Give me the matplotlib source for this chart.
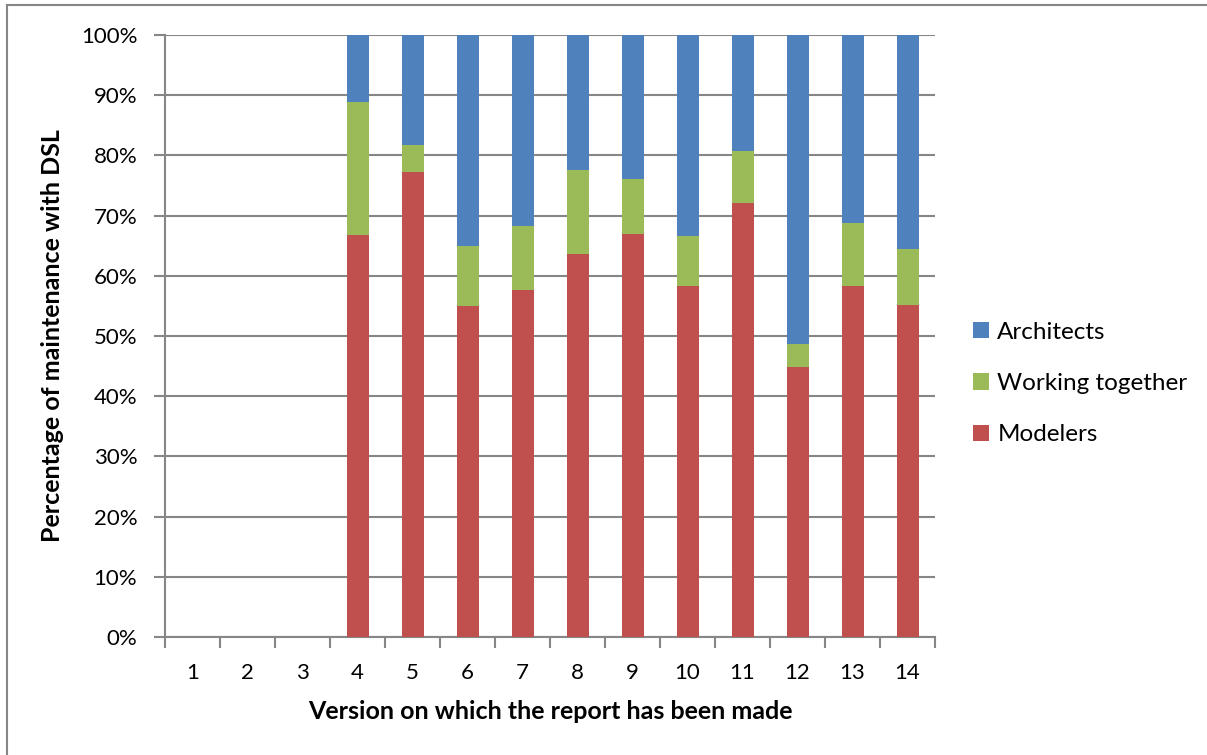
import matplotlib.pyplot as plt
from matplotlib.lines import Line2D
import numpy as np

plt.rcParams['font.family'] = ['Lato', 'DejaVu Sans']

versions = list(range(1, 15))
# share of maintenance per version, in percent (versions 1-3 have no reports)
modelers = [0, 0, 0, 66.7, 77.3, 55.0, 57.7, 63.6, 67.0, 58.3, 72.1, 44.9, 58.3, 55.1]
working_together = [0, 0, 0, 22.2, 4.5, 10.0, 10.6, 13.9, 9.0, 8.3, 8.6, 3.7, 10.4, 9.4]
architects = [0, 0, 0, 11.1, 18.2, 35.0, 31.7, 22.5, 24.0, 33.4, 19.3, 51.4, 31.3, 35.5]

blue = '#4F81BD'
green = '#9BBB59'
red = '#C0504D'
grid_grey = '#868686'

fig = plt.figure(figsize=(12.07, 7.55), dpi=100)
ax = fig.add_axes([165 / 1207, 1 - 637 / 755, 770 / 1207, 602 / 755])

x = np.array(versions)
m = np.array(modelers)
w = np.array(working_together)
a = np.array(architects)

ax.bar(x, m, width=0.4, color=red, label='Modelers', zorder=3)
ax.bar(x, w, width=0.4, bottom=m, color=green, label='Working together', zorder=3)
ax.bar(x, a, width=0.4, bottom=m + w, color=blue, label='Architects', zorder=3)

ax.set_xlim(0.5, 14.5)
ax.set_ylim(0, 100)
ax.set_yticks(range(0, 101, 10))
ax.set_yticklabels(['%d%%' % v for v in range(0, 101, 10)])
ax.set_xticks(versions)
ax.set_xticks(np.arange(0.5, 15, 1), minor=True)

ax.yaxis.grid(True, color=grid_grey, linewidth=1.5, zorder=0)
for side in ['top', 'right']:
    ax.spines[side].set_visible(False)
for side in ['left', 'bottom']:
    ax.spines[side].set_color(grid_grey)
    ax.spines[side].set_linewidth(1.5)

ax.tick_params(axis='y', length=8, width=1.5, color=grid_grey, labelsize=16, pad=12)
ax.tick_params(axis='x', which='major', length=0, labelsize=16, pad=19)
ax.tick_params(axis='x', which='minor', length=8, width=1.5, color=grid_grey)

ax.set_ylabel('Percentage of maintenance with DSL', fontsize=18, fontweight='bold', labelpad=12)
ax.set_xlabel('Version on which the report has been made', fontsize=18, fontweight='bold', labelpad=12)

handles, labels = ax.get_legend_handles_labels()
ax.legend(handles[::-1], labels[::-1], loc='center left', bbox_to_anchor=(1.021, 0.421),
          frameon=False, fontsize=17.5, handlelength=0.65, handleheight=0.65,
          handletextpad=0.35, labelspacing=1.25)

# outer chart frame
fig.add_artist(Line2D([7 / 1207, 7 / 1207], [0, 1 - 5 / 755], color=grid_grey, linewidth=1.5))
fig.add_artist(Line2D([7 / 1207, 1], [1 - 5 / 755, 1 - 5 / 755], color=grid_grey, linewidth=1.5))

fig.savefig('out.png', dpi=100)
